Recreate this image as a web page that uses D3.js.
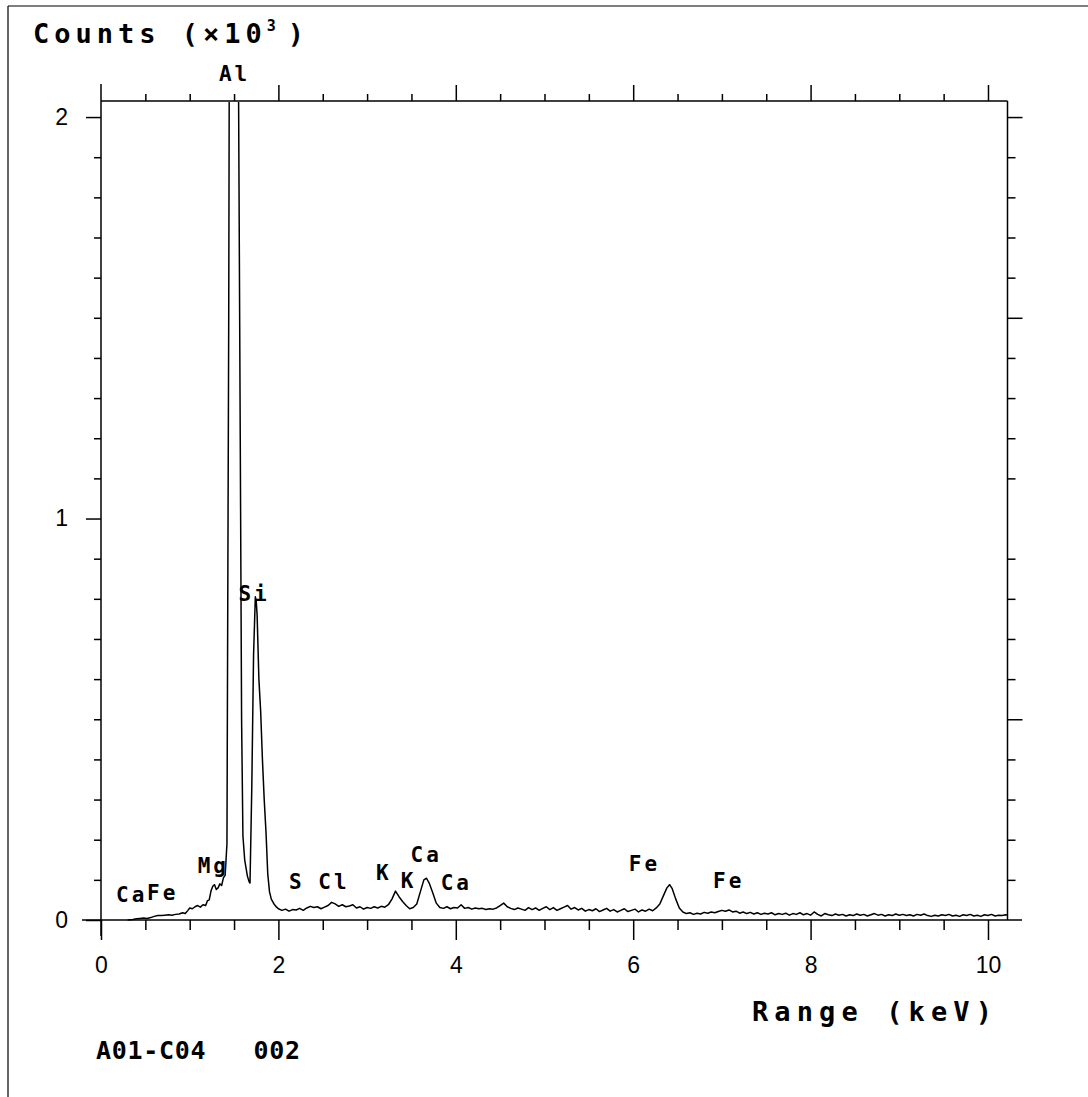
<!DOCTYPE html>
<html>
<head>
<meta charset="utf-8">
<script src="https://cdn.jsdelivr.net/npm/d3@7"></script>
<style>
  html, body { margin: 0; padding: 0; background: #fff; }
  svg { display: block; }
  .num { font-family: "Liberation Sans", Arial, sans-serif; font-size: 23px; fill: #000; }
  .lbl { font-family: "DejaVu Sans Mono", monospace; font-weight: bold; fill: #000; }
</style>
</head>
<body>
<svg id="chart" width="1088" height="1097"></svg>
<script>
// EDS spectrum, counts per energy channel (keV, counts)
const spectrum = [
  [0.30,0],[0.36,1],[0.40,3],[0.44,4],[0.48,5],[0.52,4],[0.56,6],[0.60,9],[0.64,11],[0.68,11],
  [0.72,12],[0.76,13],[0.80,12],[0.84,14],[0.88,15],[0.92,18],[0.95,16],[0.98,24],[1.00,30],[1.03,28],
  [1.06,33],[1.09,36],[1.12,32],[1.15,38],[1.18,36],[1.20,48],[1.22,50],[1.24,72],[1.26,84],[1.28,88],
  [1.30,76],[1.32,80],[1.34,90],[1.36,86],[1.38,105],[1.40,112],[1.42,190],[1.44,1500],[1.46,3600],[1.49,5200],
  [1.52,3600],[1.55,2100],[1.57,1200],[1.585,500],[1.60,210],[1.62,150],[1.65,110],[1.67,95],[1.68,92],[1.70,330],
  [1.72,660],[1.74,805],[1.75,795],[1.76,760],[1.78,600],[1.80,520],[1.82,400],[1.84,300],[1.86,220],[1.88,115],
  [1.90,70],[1.92,52],[1.95,40],[1.98,32],
  [2.00,28],[2.04,24],[2.08,27],[2.12,22],[2.16,26],[2.20,25],[2.24,29],[2.28,24],[2.32,30],[2.36,34],
  [2.40,31],[2.44,33],[2.48,28],[2.52,32],[2.56,36],[2.60,44],[2.64,40],[2.68,34],[2.72,38],[2.76,33],
  [2.80,35],[2.84,38],[2.88,30],[2.92,33],[2.96,27],[3.00,31],[3.04,29],[3.08,33],[3.12,30],[3.16,34],
  [3.20,32],[3.24,38],[3.28,52],[3.32,72],[3.36,58],[3.40,46],[3.44,36],[3.48,28],[3.52,31],[3.56,40],
  [3.60,70],[3.64,100],[3.67,104],[3.70,92],[3.74,68],[3.78,42],[3.82,31],[3.86,29],[3.90,33],[3.94,28],
  [3.98,31],[4.02,30],[4.06,38],[4.10,29],[4.14,31],[4.18,27],[4.22,30],[4.26,28],[4.30,29],[4.34,26],
  [4.38,28],[4.42,27],[4.46,30],[4.50,36],[4.54,42],[4.58,33],[4.62,29],[4.66,26],[4.70,30],[4.74,27],
  [4.78,24],[4.82,31],[4.86,26],[4.90,30],[4.94,24],[4.98,29],[5.02,33],[5.06,26],[5.10,31],[5.14,24],
  [5.18,28],[5.22,32],[5.26,36],[5.30,27],[5.34,31],[5.38,25],[5.42,29],[5.46,22],[5.50,26],[5.54,23],
  [5.58,28],[5.62,21],[5.66,25],[5.70,29],[5.74,22],[5.78,26],[5.82,20],[5.86,24],[5.90,28],[5.94,21],
  [5.98,24],[6.02,27],[6.06,20],[6.10,25],[6.14,22],[6.18,27],[6.22,23],[6.26,30],[6.30,40],[6.34,60],
  [6.38,80],[6.41,88],[6.44,78],[6.48,52],[6.52,30],[6.56,20],[6.60,16],[6.64,18],[6.68,14],[6.72,17],
  [6.76,15],[6.80,19],[6.84,17],[6.88,20],[6.92,18],[6.96,21],[7.00,24],[7.04,22],[7.08,25],[7.12,20],
  [7.16,22],[7.20,17],[7.24,20],[7.28,16],[7.32,19],[7.36,15],[7.40,18],[7.44,14],[7.48,17],[7.52,15],
  [7.56,18],[7.60,13],[7.64,16],[7.68,14],[7.72,17],[7.76,12],[7.80,16],[7.84,14],[7.88,18],[7.92,13],
  [7.96,16],[8.00,12],[8.04,20],[8.08,14],[8.12,10],[8.16,16],[8.20,13],[8.24,11],[8.28,15],[8.32,12],
  [8.36,14],[8.40,10],[8.44,13],[8.48,11],[8.52,15],[8.56,12],[8.60,14],[8.64,10],[8.68,13],[8.72,16],
  [8.76,12],[8.80,14],[8.84,10],[8.88,13],[8.92,11],[8.96,15],[9.00,12],[9.04,14],[9.08,11],[9.12,13],
  [9.16,10],[9.20,14],[9.24,12],[9.28,15],[9.32,11],[9.36,9],[9.40,12],[9.44,10],[9.48,13],[9.52,11],
  [9.56,14],[9.60,10],[9.64,12],[9.68,9],[9.72,13],[9.76,11],[9.80,14],[9.84,10],[9.88,12],[9.92,9],
  [9.96,13],[10.00,11],[10.04,14],[10.08,10],[10.12,12],[10.16,11],[10.20,13],[10.22,12]
];

// Element identification labels: [text, keV, counts at label baseline]
const peakLabels = [
  ["Ca", 0.17, 45], ["Fe", 0.52, 50],
  ["Mg", 1.09, 118], ["Al", 1.33, 2090],
  ["Si", 1.55, 795],
  ["S", 2.12, 78], ["Cl", 2.45, 78],
  ["K", 3.10, 100], ["K", 3.38, 80],
  ["Ca", 3.49, 145], ["Ca", 3.83, 75],
  ["Fe", 5.95, 122], ["Fe", 6.90, 80]
];

const xTickLabels = [0, 2, 4, 6, 8, 10];
const yTickLabels = [0, 1, 2];          // ×10³ counts
const xAxisTitle = "Range (keV)";
const sampleId = "A01-C04   002";

const svg = d3.select("#chart");

const x = d3.scaleLinear().domain([0, 10.22]).range([101, 1007.5]);
const y = d3.scaleLinear().domain([0, 2040]).range([920, 101]);

const ink = "#000";

// outer frame (top and left edges)
svg.append("line").attr("x1", 8).attr("x2", 1088).attr("y1", 6).attr("y2", 6)
  .attr("stroke", ink).attr("stroke-width", 1.2);
svg.append("line").attr("x1", 8).attr("x2", 8).attr("y1", 6).attr("y2", 1097)
  .attr("stroke", ink).attr("stroke-width", 1.2);

// axis frame lines
const frame = svg.append("g").attr("stroke", ink).attr("stroke-width", 1.5);
frame.append("line").attr("x1", x(0)).attr("x2", x(0)).attr("y1", 84).attr("y2", 936);   // left
frame.append("line").attr("x1", 82).attr("x2", 1022).attr("y1", y(0)).attr("y2", y(0));   // bottom
frame.append("line").attr("x1", x(0)).attr("x2", x(10.22)).attr("y1", y(2040)).attr("y2", y(2040)); // top
frame.append("line").attr("x1", x(10.22)).attr("x2", x(10.22)).attr("y1", y(2040)).attr("y2", y(0)); // right

function styleAxis(g) {
  g.select(".domain").remove();
  g.selectAll(".tick line").attr("stroke", ink).attr("stroke-width", 1.5);
}

const halfKeV = d3.range(0.5, 10.01, 0.5).filter(v => v % 2 !== 0);
const twoKeV = [2, 4, 6, 8, 10];

// bottom axis: short ticks every 0.5 keV, long ticks with labels every 2 keV
svg.append("g").attr("transform", `translate(0,${y(0)})`)
  .call(d3.axisBottom(x).tickValues(halfKeV).tickSize(10).tickFormat(""))
  .call(styleAxis);
svg.append("g").attr("transform", `translate(0,${y(0)})`)
  .call(d3.axisBottom(x).tickValues(xTickLabels).tickSize(20).tickPadding(17).tickFormat(d3.format("d")))
  .call(styleAxis)
  .call(g => g.selectAll("text").attr("class", "num").attr("font-size", null).attr("font-family", null));

// top axis: ticks point upward
svg.append("g").attr("transform", `translate(0,${y(2040)})`)
  .call(d3.axisTop(x).tickValues(halfKeV).tickSize(7).tickFormat(""))
  .call(styleAxis);
svg.append("g").attr("transform", `translate(0,${y(2040)})`)
  .call(d3.axisTop(x).tickValues(twoKeV).tickSize(16).tickFormat(""))
  .call(styleAxis);

// left axis: minor ticks every 100 counts, major with labels every 1000
const minorCounts = d3.range(100, 2001, 100).filter(v => v % 1000 !== 0);
svg.append("g").attr("transform", `translate(${x(0)},0)`)
  .call(d3.axisLeft(y).tickValues(minorCounts).tickSize(7).tickFormat(""))
  .call(styleAxis);
svg.append("g").attr("transform", `translate(${x(0)},0)`)
  .call(d3.axisLeft(y).tickValues(yTickLabels.map(v => v * 1000)).tickSize(15).tickPadding(18)
    .tickFormat(v => String(v / 1000)))
  .call(styleAxis)
  .call(g => g.selectAll("text").attr("class", "num").attr("font-size", null).attr("font-family", null));

// right axis: ticks point outward, longer every 500 counts
svg.append("g").attr("transform", `translate(${x(10.22)},0)`)
  .call(d3.axisRight(y).tickValues(minorCounts.filter(v => v % 500 !== 0)).tickSize(8).tickFormat(""))
  .call(styleAxis);
svg.append("g").attr("transform", `translate(${x(10.22)},0)`)
  .call(d3.axisRight(y).tickValues([500, 1500, 2000]).tickSize(15).tickFormat(""))
  .call(styleAxis);

// spectrum trace, clipped to the plot frame
svg.append("clipPath").attr("id", "plotClip")
  .append("rect").attr("x", x(0)).attr("y", y(2040) + 1)
  .attr("width", x(10.22) - x(0)).attr("height", y(0) - y(2040));

svg.append("path")
  .datum(spectrum)
  .attr("clip-path", "url(#plotClip)")
  .attr("fill", "none")
  .attr("stroke", ink)
  .attr("stroke-width", 1.5)
  .attr("stroke-linejoin", "round")
  .attr("d", d3.line().x(d => x(d[0])).y(d => y(d[1])));

// peak labels
svg.append("g").selectAll("text")
  .data(peakLabels)
  .join("text")
  .attr("class", "lbl")
  .attr("font-size", 21)
  .attr("letter-spacing", 3)
  .attr("x", d => x(d[1]))
  .attr("y", d => y(d[2]))
  .text(d => d[0]);

// y axis title with superscript exponent
const title = svg.append("text").attr("class", "lbl")
  .attr("font-size", 27).attr("x", 33).attr("y", 43);
title.append("tspan").attr("letter-spacing", 5).text("Counts (×10");
title.append("tspan").attr("font-size", 15).attr("dy", -12).attr("dx", 0).text("3");
title.append("tspan").attr("dy", 12).attr("dx", 12).text(")");

// x axis title and sample identifier
svg.append("text").attr("class", "lbl").attr("font-size", 27)
  .attr("x", 752).attr("y", 1021).attr("textLength", 240).attr("lengthAdjust", "spacing")
  .text(xAxisTitle);
svg.append("text").attr("class", "lbl").attr("font-size", 25)
  .attr("x", 96).attr("y", 1059).attr("xml:space", "preserve")
  .attr("textLength", 204).attr("lengthAdjust", "spacing")
  .text(sampleId);
</script>
</body>
</html>
